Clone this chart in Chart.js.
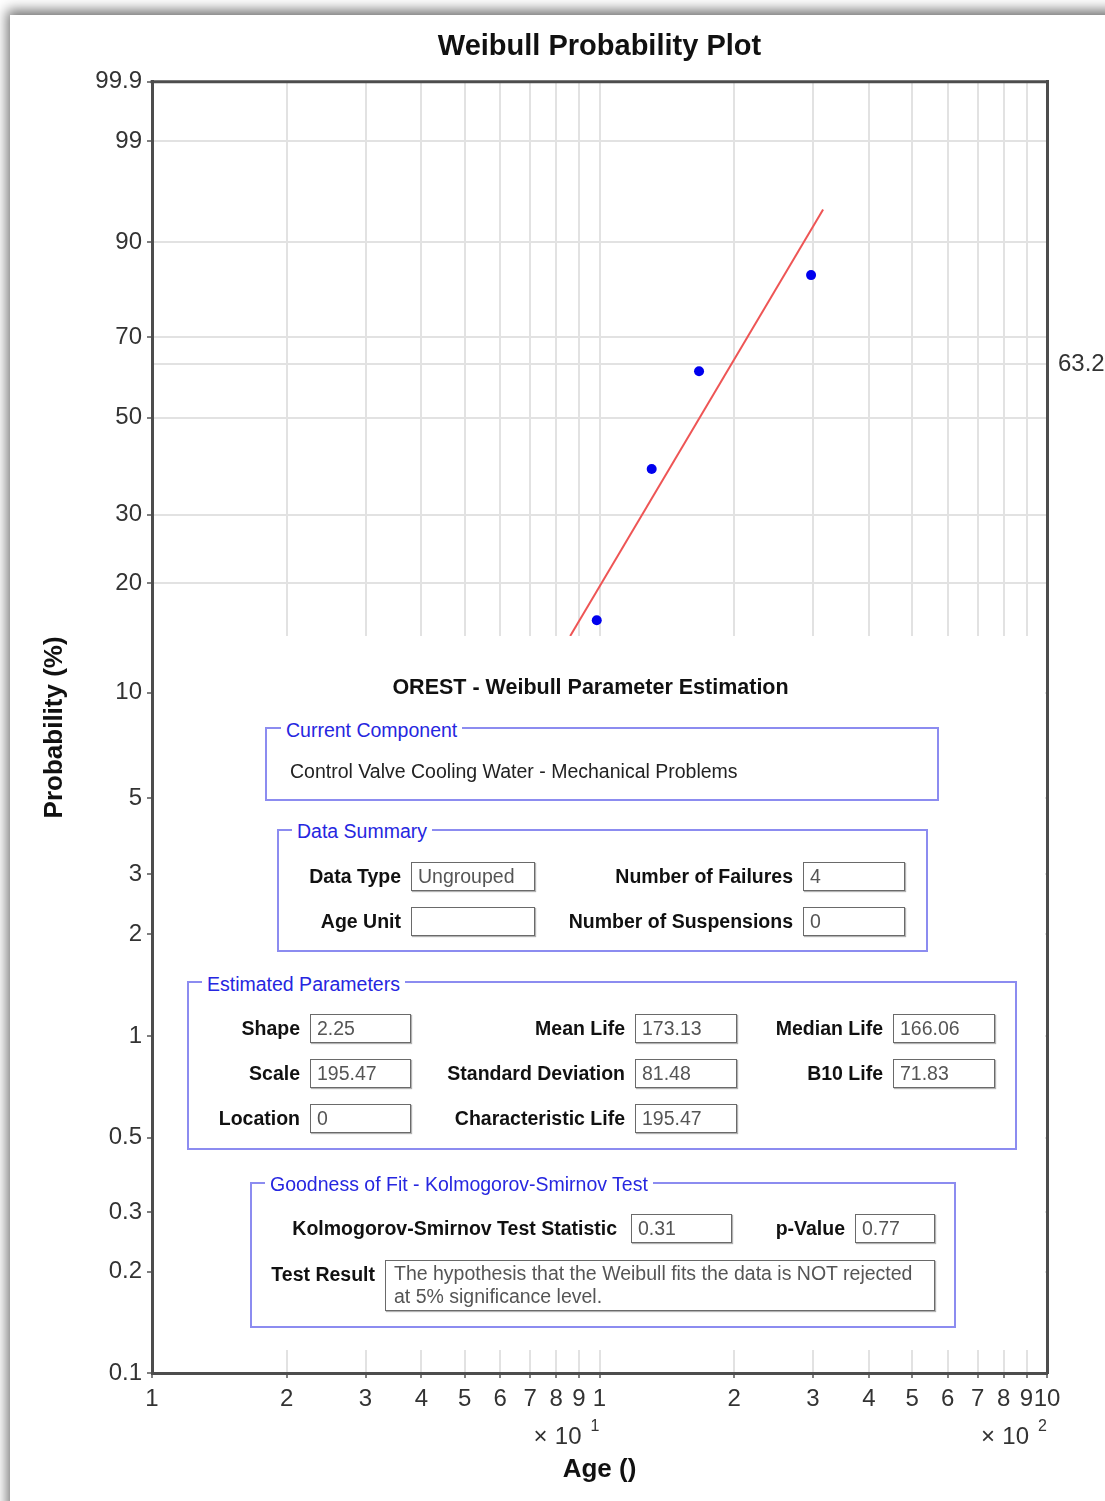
<!DOCTYPE html>
<html lang="en">
<head>
<meta charset="UTF-8">
<title>Weibull Probability Plot</title>
<script src="https://cdn.jsdelivr.net/npm/chart.js"></script>
<style>
  body { margin: 0; width: 1105px; height: 1501px; overflow: hidden; background: #fff; position: relative;
         font-family: "Liberation Sans", Arial, sans-serif; }
  #card { position: absolute; left: 10px; top: 15px; width: 1200px; height: 1600px; background: #fff;
          box-shadow: -3px -5px 12px rgba(0,0,0,0.55); }
  #plot { position: absolute; left: 0; top: 0; }
  #panel { position: absolute; left: 154px; top: 636px; width: 891px; height: 714px; background: #fff; }
  .ptitle { position: absolute; text-align: center; font-weight: bold; font-size: 21.5px; line-height: 28px; color: #111; }
  .box { position: absolute; box-sizing: border-box; border: 2px solid #8c8cf0; }
  .legend { position: absolute; background: #fff; padding: 0 5px; color: #2626e0; font-size: 19.5px; line-height: 24px; }
  .txt { position: absolute; font-size: 19.5px; line-height: 24px; color: #222; }
  .lbl { position: absolute; width: 360px; text-align: right; font-size: 19.5px; font-weight: bold; line-height: 24px; color: #111; }
  .inp { position: absolute; box-sizing: border-box; height: 29px; border: 1.5px solid #6a6a6a;
         box-shadow: 1px 1px 1px rgba(0,0,0,0.3); padding-left: 6px; font-size: 19.5px; line-height: 26px; color: #555; }
</style>
</head>
<body>
<div id="card"></div>
<canvas id="plot" width="1105" height="1501"></canvas>

<!-- OREST parameter panel drawn over the lower part of the plot -->
<div id="panel"></div>
<div class="ptitle" style="left:145px;top:673px;width:891px">OREST - Weibull Parameter Estimation</div>

<div class="box" style="left:265px;top:727px;width:674px;height:74px"></div>
<div class="legend" style="left:281px;top:718px">Current Component</div>
<div class="txt" style="left:290px;top:759px">Control Valve Cooling Water - Mechanical Problems</div>

<div class="box" style="left:277px;top:829px;width:651px;height:123px"></div>
<div class="legend" style="left:292px;top:819px">Data Summary</div>
<div class="lbl" style="left:41px;top:864px">Data Type</div>
<div class="inp" style="left:411px;top:862px;width:124px">Ungrouped</div>
<div class="lbl" style="left:433px;top:864px">Number of Failures</div>
<div class="inp" style="left:803px;top:862px;width:102px">4</div>
<div class="lbl" style="left:41px;top:909px">Age Unit</div>
<div class="inp" style="left:411px;top:907px;width:124px"></div>
<div class="lbl" style="left:433px;top:909px">Number of Suspensions</div>
<div class="inp" style="left:803px;top:907px;width:102px">0</div>

<div class="box" style="left:187px;top:981px;width:830px;height:169px"></div>
<div class="legend" style="left:202px;top:972px">Estimated Parameters</div>
<div class="lbl" style="left:-60px;top:1016px">Shape</div>
<div class="inp" style="left:310px;top:1014px;width:101px">2.25</div>
<div class="lbl" style="left:265px;top:1016px">Mean Life</div>
<div class="inp" style="left:635px;top:1014px;width:102px">173.13</div>
<div class="lbl" style="left:523px;top:1016px">Median Life</div>
<div class="inp" style="left:893px;top:1014px;width:102px">166.06</div>
<div class="lbl" style="left:-60px;top:1061px">Scale</div>
<div class="inp" style="left:310px;top:1059px;width:101px">195.47</div>
<div class="lbl" style="left:265px;top:1061px">Standard Deviation</div>
<div class="inp" style="left:635px;top:1059px;width:102px">81.48</div>
<div class="lbl" style="left:523px;top:1061px">B10 Life</div>
<div class="inp" style="left:893px;top:1059px;width:102px">71.83</div>
<div class="lbl" style="left:-60px;top:1106px">Location</div>
<div class="inp" style="left:310px;top:1104px;width:101px">0</div>
<div class="lbl" style="left:265px;top:1106px">Characteristic Life</div>
<div class="inp" style="left:635px;top:1104px;width:102px">195.47</div>

<div class="box" style="left:250px;top:1182px;width:706px;height:146px"></div>
<div class="legend" style="left:265px;top:1172px">Goodness of Fit - Kolmogorov-Smirnov Test</div>
<div class="lbl" style="left:257px;top:1216px">Kolmogorov-Smirnov Test Statistic</div>
<div class="inp" style="left:631px;top:1214px;width:101px">0.31</div>
<div class="lbl" style="left:485px;top:1216px">p-Value</div>
<div class="inp" style="left:855px;top:1214px;width:80px">0.77</div>
<div class="lbl" style="left:15px;top:1262px">Test Result</div>
<div class="inp" style="left:385px;top:1260px;width:550px;height:51px;line-height:23px;padding:1px 8px">The hypothesis that the Weibull fits the data is NOT rejected<br>at 5% significance level.</div>

<script>
    // axis ticks
    const X_TICKS = [10, 20, 30, 40, 50, 60, 70, 80, 90, 100, 200, 300, 400, 500, 600, 700, 800, 900, 1000];
    const X_TICK_LABELS = ['1', '2', '3', '4', '5', '6', '7', '8', '9', '1', '2', '3', '4', '5', '6', '7', '8', '9', '10'];
    const X_EXP_AT = [100, 1000];
    const X_EXP = ['1', '2'];
    const PROB_TICKS = [0.1, 0.2, 0.3, 0.5, 1, 2, 3, 5, 10, 20, 30, 50, 70, 90, 99, 99.9];
    const CHAR_LIFE_TICK = [63.2];

    // failure data (median ranks) and fitted line ends
    const AGE = [98.6, 130.8, 166.9, 297.0];
    const PROB = [15.9, 38.6, 61.4, 84.1];
    const FIT_AGE = [86, 316];
    const FIT_PROB = [14.4, 94.4];

    const FONT = '"Liberation Sans", Arial, sans-serif';
    Chart.defaults.font.family = FONT;

    // Weibull probability axis: y = ln(-ln(1 - p))
    const weib = p => Math.log(-Math.log(1 - p / 100));
    const unweib = w => 100 * (1 - Math.exp(-Math.exp(w)));

    class WeibullScale extends Chart.Scale {
        determineDataLimits() {
            this.min = this.options.min;
            this.max = this.options.max;
        }
        buildTicks() {
            return PROB_TICKS.map(v => ({ value: v }));
        }
        configure() {
            super.configure();
            this._wStart = weib(this.min);
            this._wRange = weib(this.max) - this._wStart;
        }
        getLabelForValue(v) { return String(v); }
        getPixelForValue(v) {
            return this.getPixelForDecimal((weib(v) - this._wStart) / this._wRange);
        }
        getValueForPixel(px) {
            return unweib(this._wStart + this.getDecimalForPixel(px) * this._wRange);
        }
    }
    WeibullScale.id = 'weibull';
    WeibullScale.defaults = {};
    Chart.register(WeibullScale);

    const gridColor = '#e2e2e2';
    const axisColor = '#4d4d4d';

    // top frame line and the x10^n multipliers under the x axis
    const frameAndExponents = {
        id: 'frameAndExponents',
        afterDraw(chart) {
            const { ctx, chartArea: a, scales: { x } } = chart;
            ctx.save();
            ctx.strokeStyle = axisColor;
            ctx.lineWidth = 3;
            ctx.beginPath();
            ctx.moveTo(a.left - 1.5, a.top);
            ctx.lineTo(a.right + 1.5, a.top);
            ctx.stroke();
            ctx.fillStyle = '#333';
            ctx.textBaseline = 'middle';
            X_EXP_AT.forEach((v, i) => {
                const px = x.getPixelForValue(v);
                ctx.font = '24px ' + FONT;
                ctx.textAlign = 'right';
                ctx.fillText('10', px - 18, a.bottom + 64);
                ctx.fillText('\u00d7', px - 52, a.bottom + 64);
                ctx.font = '16px ' + FONT;
                ctx.textAlign = 'left';
                ctx.fillText(X_EXP[i], px - 9, a.bottom + 54);
            });
            ctx.restore();
        }
    };

    new Chart(document.getElementById('plot'), {
        type: 'scatter',
        data: {
            datasets: [
                {
                    type: 'line',
                    data: FIT_AGE.map((x, i) => ({ x: x, y: FIT_PROB[i] })),
                    borderColor: '#ee5555', borderWidth: 2, pointRadius: 0, fill: false
                },
                {
                    data: AGE.map((x, i) => ({ x: x, y: PROB[i] })),
                    backgroundColor: '#0000ee', borderWidth: 0, pointRadius: 5
                }
            ]
        },
        options: {
            responsive: false,
            animation: false,
            devicePixelRatio: 1,
            layout: { padding: 0 },
            plugins: {
                legend: { display: false },
                tooltip: { enabled: false },
                title: {
                    display: true, fullSize: false, text: 'Weibull Probability Plot', color: '#111',
                    font: { size: 29, weight: 'bold' }, padding: { top: 30, bottom: 17 }
                }
            },
            scales: {
                x: {
                    type: 'logarithmic', min: 10, max: 1000,
                    afterBuildTicks: s => { s.ticks = X_TICKS.map(v => ({ value: v })); },
                    afterFit: s => { s.height = 128; },
                    ticks: {
                        autoSkip: false, maxRotation: 0, minRotation: 0, padding: 7, color: '#333',
                        font: { size: 24 }, callback: (v, i) => X_TICK_LABELS[i]
                    },
                    grid: { color: gridColor, lineWidth: 2, tickColor: '#555', tickLength: 5, tickWidth: 1.5 },
                    border: { color: axisColor, width: 3 },
                    title: {
                        display: true, text: 'Age ()', color: '#111',
                        font: { size: 26, weight: 'bold' }, padding: { top: 0, bottom: 16 }
                    }
                },
                y: {
                    type: 'weibull', position: 'left', min: 0.1, max: 99.9,
                    afterFit: s => { s.width = 152; },
                    ticks: { autoSkip: false, color: '#333', font: { size: 24 }, padding: 5 },
                    grid: { color: gridColor, lineWidth: 2, tickColor: '#555', tickLength: 5, tickWidth: 1.5 },
                    border: { color: axisColor, width: 3 },
                    title: {
                        display: true, text: 'Probability (%)', color: '#111',
                        font: { size: 26, weight: 'bold' }, padding: { top: 39, bottom: 0 }
                    }
                },
                y2: {
                    type: 'weibull', position: 'right', min: 0.1, max: 99.9,
                    afterBuildTicks: s => { s.ticks = CHAR_LIFE_TICK.map(v => ({ value: v })); },
                    afterFit: s => { s.width = 58; },
                    ticks: { autoSkip: false, color: '#333', font: { size: 24 }, padding: 11 },
                    grid: { color: gridColor, lineWidth: 2, drawTicks: false },
                    border: { color: axisColor, width: 3 }
                }
            }
        },
        plugins: [frameAndExponents]
    });
</script>
</body>
</html>
